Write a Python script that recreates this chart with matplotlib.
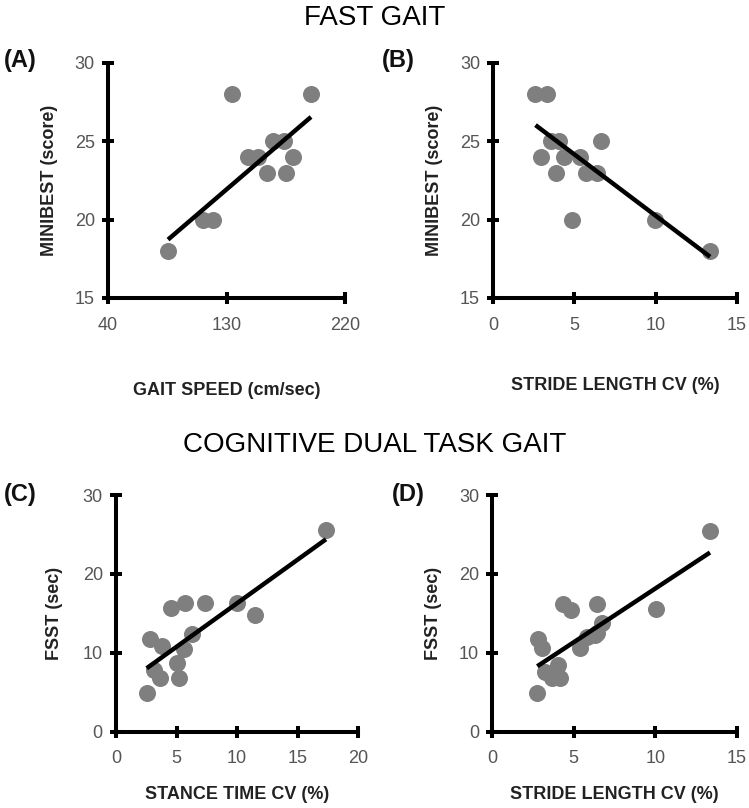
import numpy as np
import matplotlib
matplotlib.use("Agg")
from matplotlib import pyplot as plt

plt.rcParams["font.family"] = ["Liberation Sans", "DejaVu Sans"]

# (A) fast gait: gait speed vs MiniBEST
speed_a = [85.6, 112, 120, 134, 146.5, 154, 160.5, 165.5, 173.7, 174.9, 180.3, 194.2]
minibest_a = [18, 20, 20, 28, 24, 24, 23, 25, 25, 23, 24, 28]
fit_a = [0.0720, 12.56]  # slope, intercept

# (B) fast gait: stride length CV vs MiniBEST
stride_b = [2.6, 3.3, 3.54, 4.05, 6.64, 2.94, 4.38, 5.35, 3.87, 5.69, 6.41, 4.83, 9.97, 13.36]
minibest_b = [28, 28, 25, 25, 25, 24, 24, 24, 23, 23, 23, 20, 20, 18]
fit_b = [-0.780, 28.05]

# (C) dual task: stance time CV vs FSST
stance_c = [2.53, 2.81, 3.16, 3.63, 3.77, 4.54, 5.01, 5.2, 5.64, 5.7, 6.3, 7.35, 9.96, 11.47, 17.33]
fsst_c = [4.86, 11.71, 7.82, 6.77, 10.86, 15.64, 8.75, 6.77, 10.44, 16.27, 12.34, 16.27, 16.27, 14.8, 25.6]
fit_c = [1.105, 5.24]

# (D) dual task: stride length CV vs FSST
stride_d = [2.76, 2.82, 3.03, 3.24, 3.65, 4.05, 4.16, 4.36, 4.81, 5.38, 5.79, 6.30, 6.41, 6.45, 6.72, 10.05, 13.36]
fsst_d = [4.86, 11.71, 10.57, 7.6, 6.77, 8.45, 6.77, 16.19, 15.43, 10.57, 12.04, 12.2, 16.19, 12.5, 13.74, 15.5, 25.43]
fit_d = [1.36, 4.54]

GRAY = "#7f7f7f"
TICK_GRAY = "#555555"
W, H = 749, 808


def panel(rect, x, y, fit, xlim, xticks, ylim, yticks, xlabel, ylabel, tag, ylab_x, xlab_y):
    left, top, right, bottom = rect
    ax = fig.add_axes([left / W, 1 - bottom / H, (right - left) / W, (bottom - top) / H])
    ax.scatter(x, y, s=150, color=GRAY, zorder=2, clip_on=False, linewidths=0)

    xs = np.array([min(x), max(x)])
    ax.plot(xs, fit[0] * xs + fit[1], color="black", lw=3.2, zorder=3,
            solid_capstyle="butt")

    ax.set_xlim(*xlim)
    ax.set_ylim(*ylim)
    ax.set_xticks(xticks)
    ax.set_yticks(yticks)
    for s in ["top", "right"]:
        ax.spines[s].set_visible(False)
    for s in ["left", "bottom"]:
        ax.spines[s].set_linewidth(2.9)
    ax.tick_params(direction="inout", length=9, width=2.9, labelsize=13,
                   labelcolor=TICK_GRAY)
    ax.tick_params(axis="y", pad=5)
    ax.tick_params(axis="x", pad=9)

    ax.text(ylab_x, 0.5, ylabel, transform=ax.transAxes, rotation=90,
            ha="center", va="center", fontsize=13, fontweight="bold", color="#222222")
    ax.text(0.5, xlab_y, xlabel, transform=ax.transAxes,
            ha="center", va="center", fontsize=13, fontweight="bold", color="#222222")
    fig.text(tag[1] / W, 1 - tag[2] / H, tag[0], ha="left", va="center",
             fontsize=17, fontweight="bold", color="#111111")
    return ax


fig = plt.figure(figsize=(W / 100, H / 100), dpi=100)

fig.text(0.5, 1 - 18 / H, "FAST GAIT", ha="center", va="center", fontsize=20)
fig.text(0.5, 1 - 445 / H, "COGNITIVE DUAL TASK GAIT", ha="center", va="center", fontsize=20)

panel((108, 62.7, 345, 298), speed_a, minibest_a, fit_a, (40, 220), [40, 130, 220],
      (15, 30), [15, 20, 25, 30], "GAIT SPEED (cm/sec)", "MINIBEST (score)",
      ("(A)", 4, 60), -0.245, -0.391)
panel((493.3, 62.7, 736.7, 298), stride_b, minibest_b, fit_b, (0, 15), [0, 5, 10, 15],
      (15, 30), [15, 20, 25, 30], "STRIDE LENGTH CV (%)", "MINIBEST (score)",
      ("(B)", 382, 60), -0.24, -0.37)
panel((116, 495, 358.3, 731.7), stance_c, fsst_c, fit_c, (0, 20), [0, 5, 10, 15, 20],
      (0, 30), [0, 10, 20, 30], "STANCE TIME CV (%)", "FSST (sec)",
      ("(C)", 4, 494), -0.252, -0.267)
panel((492.3, 495, 736.7, 731.7), stride_d, fsst_d, fit_d, (0, 15), [0, 5, 10, 15],
      (0, 30), [0, 10, 20, 30], "STRIDE LENGTH CV (%)", "FSST (sec)",
      ("(D)", 392, 494), -0.24, -0.267)

fig.savefig("out.png", dpi=100)
